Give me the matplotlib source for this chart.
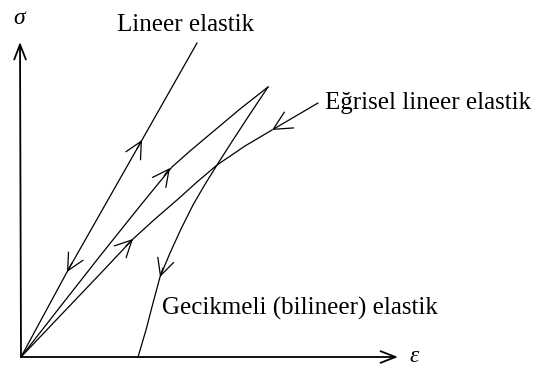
import matplotlib.pyplot as plt

# coordinates, in pixels (y grows downwards)
origin = (21, 357)
y_axis_top = (20, 42)
x_axis_end = (398, 357)

lineer_x = [21, 67, 142, 197]
lineer_y = [357, 272, 140, 43]

# loading branch up to the peak, then unloading branch (gecikmeli / bilineer)
yukleme_x = [21, 60, 100, 140, 158, 172, 190, 215, 240, 268]
yukleme_y = [357, 307, 256, 206, 184, 167, 151, 130, 109, 87]
bosaltma_x = [268, 250, 233, 217, 204, 193, 181, 170, 160, 153, 146, 138]
bosaltma_y = [87, 114, 140, 165, 186, 205, 229, 253, 277, 303, 330, 357]

egrisel_x = [21, 60, 100, 133, 155, 177, 197, 217, 245, 272]
egrisel_y = [357, 316, 274, 239, 219, 200, 182, 165, 146, 130]

# (tail, tip) of the small arrow heads sitting on the curves
oklar = [
    ((137, 149), (142, 140)),
    ((72, 263), (67, 272)),
    ((164, 176), (170, 168)),
    ((126, 246), (133, 239)),
    ((163, 268), (160, 277)),
]

fig = plt.figure(figsize=(5.36, 3.68), dpi=100)
ax = fig.add_axes([0, 0, 1, 1])
ax.set_xlim(0, 536)
ax.set_ylim(368, 0)
ax.axis('off')

# eksenler
for uc in (y_axis_top, x_axis_end):
    ax.annotate('', xy=uc, xytext=origin,
                arrowprops=dict(arrowstyle='->, head_length=0.9, head_width=0.35',
                                lw=1.3, color='black', mutation_scale=12,
                                shrinkA=0, shrinkB=0))

ax.plot(lineer_x, lineer_y, color='black', lw=0.9)
ax.plot(yukleme_x, yukleme_y, color='black', lw=0.9)
ax.plot(bosaltma_x, bosaltma_y, color='black', lw=0.9)
ax.plot(egrisel_x, egrisel_y, color='black', lw=0.9)

for tail, tip in oklar:
    ax.annotate('', xy=tip, xytext=tail,
                arrowprops=dict(arrowstyle='->, head_length=1.0, head_width=0.5',
                                lw=0.9, color='black', mutation_scale=12,
                                shrinkA=0, shrinkB=0))

# etiket oku
ax.annotate('', xy=(272, 130), xytext=(318, 103),
            arrowprops=dict(arrowstyle='->, head_length=1.1, head_width=0.55',
                            lw=0.9, color='black', mutation_scale=12,
                            shrinkA=0, shrinkB=0))

serif = ['Liberation Serif', 'DejaVu Serif']
ax.text(19, 18, 'σ', fontsize=17, style='italic', family=serif,
        ha='center', va='center')
ax.text(414, 356, 'ε', fontsize=17, style='italic', family=serif,
        ha='center', va='center')
ax.text(117, 25, 'Lineer elastik', fontsize=18, family=serif,
        ha='left', va='center')
ax.text(325, 103, 'Eğrisel lineer elastik', fontsize=18, family=serif,
        ha='left', va='center')
ax.text(162, 308, 'Gecikmeli (bilineer) elastik', fontsize=18, family=serif,
        ha='left', va='center')

fig.savefig('out.png', dpi=100)
